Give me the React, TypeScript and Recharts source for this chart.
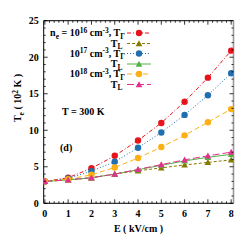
import React from "react";
import { LineChart, Line, XAxis, YAxis } from "recharts";

const E = [0, 1, 2, 3, 4, 5, 6, 7, 8];
const te16 = [3.0, 3.5, 4.8, 6.5, 8.6, 11.0, 13.9, 17.2, 20.9];
const tl16 = [3.0, 3.2, 3.5, 4.0, 4.45, 4.85, 5.25, 5.6, 5.95];
const te17 = [3.0, 3.4, 4.4, 5.7, 7.6, 9.7, 12.1, 14.8, 17.8];
const tl17 = [3.0, 3.2, 3.5, 4.0, 4.6, 5.2, 5.8, 6.3, 6.7];
const te18 = [3.0, 3.3, 3.9, 4.9, 6.2, 7.7, 9.3, 11.1, 12.9];
const tl18 = [3.0, 3.2, 3.5, 4.0, 4.65, 5.3, 5.95, 6.5, 7.0];

const xMajor = [0, 1, 2, 3, 4, 5, 6, 7, 8];
const yMajor = [0, 5, 10, 15, 20, 25];

const xTicks: number[] = [];
for (let i = 0; i <= 40; i++) xTicks.push(Math.round(i * 20) / 100);
const yTicks: number[] = [];
for (let i = 0; i <= 25; i++) yTicks.push(i);

const data = E.map((e, i) => ({
  E: e,
  te16: te16[i],
  tl16: tl16[i],
  te17: te17[i],
  tl17: tl17[i],
  te18: te18[i],
  tl18: tl18[i],
}));

const FONT = "'Liberation Serif', 'DejaVu Serif', serif";

type SeriesDef = { key: string; color: string; dash?: string; marker: "circle" | "tri" };
const series: SeriesDef[] = [
  { key: "te16", color: "#e8141c", dash: "4 2 1 2", marker: "circle" },
  { key: "tl16", color: "#857a00", dash: "3 2", marker: "tri" },
  { key: "te17", color: "#1f6fb0", dash: "1 2", marker: "circle" },
  { key: "tl17", color: "#52b046", marker: "tri" },
  { key: "te18", color: "#fbb016", dash: "5 3", marker: "circle" },
  { key: "tl18", color: "#e2308e", dash: "7 3", marker: "tri" },
];

function Marker({ cx, cy, color, kind }: { cx: number; cy: number; color: string; kind: string }) {
  if (cx == null || cy == null) return null;
  if (kind === "circle") return <circle cx={cx} cy={cy} r={3.2} fill={color} stroke="none" />;
  const s = 3.3;
  return (
    <path
      d={`M${cx},${cy - s} L${cx + s},${cy + s * 0.8} L${cx - s},${cy + s * 0.8} Z`}
      fill={color}
      stroke="none"
    />
  );
}

const isMajorX = (v: number) => xMajor.some((m) => Math.abs(m - v) < 1e-6);
const isMajorY = (v: number) => yMajor.some((m) => Math.abs(m - v) < 1e-6);

const renderBottomTick = (p: any) => {
  const v = p.payload.value;
  const maj = isMajorX(v);
  return (
    <g key={`b${v}`}>
      <line x1={p.x} y1={p.y} x2={p.x} y2={p.y - (maj ? 4 : 2)} stroke="#000" strokeWidth={0.8} />
      {maj && (
        <text x={p.x} y={p.y + 14} textAnchor="middle" fontFamily={FONT} fontWeight="bold" fontSize={10} fill="#000">
          {v}
        </text>
      )}
    </g>
  );
};
const renderTopTick = (p: any) => {
  const v = p.payload.value;
  const maj = isMajorX(v);
  return <line key={`t${v}`} x1={p.x} y1={p.y} x2={p.x} y2={p.y + (maj ? 4 : 2)} stroke="#000" strokeWidth={0.8} />;
};
const renderLeftTick = (p: any) => {
  const v = p.payload.value;
  const maj = isMajorY(v);
  return (
    <g key={`l${v}`}>
      <line x1={p.x} y1={p.y} x2={p.x + (maj ? 4 : 2)} y2={p.y} stroke="#000" strokeWidth={0.8} />
      {maj && (
        <text x={p.x - 5} y={p.y + 3.5} textAnchor="end" fontFamily={FONT} fontWeight="bold" fontSize={10} fill="#000">
          {v}
        </text>
      )}
    </g>
  );
};
const renderRightTick = (p: any) => {
  const v = p.payload.value;
  const maj = isMajorY(v);
  return <line key={`r${v}`} x1={p.x} y1={p.y} x2={p.x - (maj ? 4 : 2)} y2={p.y} stroke="#000" strokeWidth={0.8} />;
};

const sub = (t: string) => (
  <span style={{ fontSize: 7.5, position: "relative", top: 2.5 }}>{t}</span>
);
const sup = (t: string) => (
  <span style={{ fontSize: 7.5, position: "relative", top: -3.5 }}>{t}</span>
);

const legendRows: { y: number; content: React.ReactNode }[] = [
  { y: 33, content: <>n{sub("e")}&nbsp;=&nbsp;10{sup("16")} cm{sup("-3")}, T{sub("Γ")}</> },
  { y: 43.5, content: <>T{sub("L")}&nbsp;</> },
  { y: 53.5, content: <>10{sup("17")} cm{sup("-3")}, T{sub("Γ")}</> },
  { y: 64, content: <>T{sub("L")}&nbsp;</> },
  { y: 74, content: <>10{sup("18")} cm{sup("-3")}, T{sub("Γ")}</> },
  { y: 84.5, content: <>T{sub("L")}&nbsp;</> },
];

const textStyle: React.CSSProperties = {
  position: "absolute",
  fontFamily: FONT,
  fontWeight: "bold",
  fontSize: 10,
  color: "#000",
  whiteSpace: "nowrap",
  lineHeight: "10px",
};

const PL = 43.7, PR = 233.5, PT = 20.7, PB = 203.3;

export default function App() {
  return (
    <div style={{ position: "absolute", left: 0, top: 0, width: 245, height: 245, background: "#fff" }}>
      <LineChart
        width={245}
        height={245}
        data={data}
        margin={{ top: PT - 2, right: 245 - PR - 2, bottom: 245 - PB - 30, left: PL - 30 }}
      >
        <XAxis
          xAxisId="b"
          dataKey="E"
          type="number"
          domain={[-0.05, 8.1]}
          allowDataOverflow
          ticks={xTicks}
          interval={0}
          height={30}
          tickSize={0}
          tickMargin={0}
          tick={renderBottomTick}
          tickLine={false}
          axisLine={{ stroke: "#000", strokeWidth: 1 }}
        />
        <XAxis
          xAxisId="t"
          dataKey="E"
          orientation="top"
          type="number"
          domain={[-0.05, 8.1]}
          allowDataOverflow
          ticks={xTicks}
          interval={0}
          height={2}
          tickSize={0}
          tickMargin={0}
          tick={renderTopTick}
          tickLine={false}
          axisLine={{ stroke: "#000", strokeWidth: 1 }}
        />
        <YAxis
          yAxisId="l"
          type="number"
          domain={[0, 25]}
          allowDataOverflow
          ticks={yTicks}
          interval={0}
          width={30}
          tickSize={0}
          tickMargin={0}
          tick={renderLeftTick}
          tickLine={false}
          axisLine={{ stroke: "#000", strokeWidth: 1 }}
        />
        <YAxis
          yAxisId="r"
          orientation="right"
          type="number"
          domain={[0, 25]}
          allowDataOverflow
          ticks={yTicks}
          interval={0}
          width={2}
          tickSize={0}
          tickMargin={0}
          tick={renderRightTick}
          tickLine={false}
          axisLine={{ stroke: "#9a9a9a", strokeWidth: 1.6 }}
        />
        {series.map((s) => (
          <Line
            key={s.key}
            xAxisId="b"
            yAxisId="l"
            dataKey={s.key}
            type="linear"
            stroke={s.color}
            strokeWidth={1}
            strokeDasharray={s.dash}
            isAnimationActive={false}
            dot={(p: any) => <Marker key={`${s.key}-${p.index}`} cx={p.cx} cy={p.cy} color={s.color} kind={s.marker} />}
            activeDot={false}
          />
        ))}
        <Line
          xAxisId="t"
          yAxisId="r"
          dataKey="te16"
          stroke="none"
          dot={false}
          activeDot={false}
          legendType="none"
          isAnimationActive={false}
        />
      </LineChart>

      {legendRows.map((r, i) => (
        <div key={i} style={{ ...textStyle, right: 245 - 125, top: r.y - 5 }}>
          {r.content}
        </div>
      ))}
      <svg style={{ position: "absolute", left: 0, top: 0 }} width={245} height={245}>
        {series.map((s, i) => (
          <g key={s.key}>
            <line x1={127} x2={151} y1={legendRows[i].y} y2={legendRows[i].y} stroke={s.color} strokeWidth={1} strokeDasharray={s.dash} />
            <Marker cx={139} cy={legendRows[i].y} color={s.color} kind={s.marker} />
          </g>
        ))}
      </svg>

      <div style={{ ...textStyle, left: 62, top: 107 }}>T = 300 K</div>
      <div style={{ ...textStyle, left: 60, top: 143 }}>(d)</div>
      <div style={{ ...textStyle, left: 138.5, top: 224, transform: "translateX(-50%)" }}>E ( kV/cm )</div>
      <div
        style={{
          ...textStyle,
          left: 18,
          top: 98,
          transform: "translate(-50%, -50%) rotate(-90deg)",
        }}
      >
        T{sub("e")} ( 10{sup("2")} K )
      </div>
    </div>
  );
}
